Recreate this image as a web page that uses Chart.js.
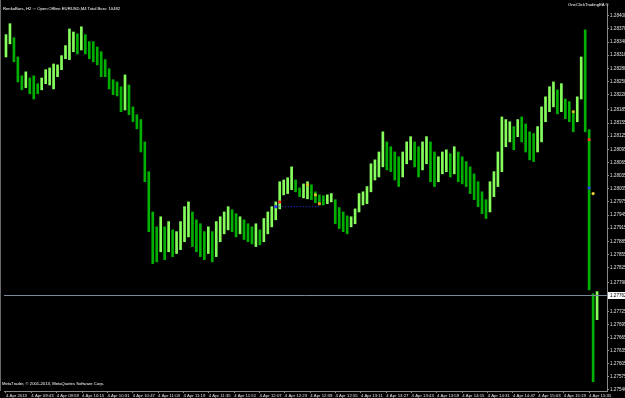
<!DOCTYPE html>
<html>
<head>
<meta charset="utf-8">
<script src="https://cdn.jsdelivr.net/npm/chart.js@4/dist/chart.umd.min.js"></script>
<style>
  body { margin: 0; background: #000; }
  #wrap { position: relative; width: 625px; height: 398px; background: #000; overflow: hidden; }
  #grafico { position: absolute; left: 0; top: 0; }
  .txt { position: absolute; color: #fff; font-family: "Liberation Sans", Arial, sans-serif; font-size: 4.2px; white-space: nowrap; line-height: 1; }
  #frame { position: absolute; left: 0; top: 0; width: 1px; height: 391px; background: #6a6a6a; }
</style>
</head>
<body>
<div id="wrap">
  <canvas id="grafico" width="625" height="398"></canvas>
  <div id="frame"></div>
  <div class="txt" style="left:3px; top:7px;">RenkoBars, H2 ::: Open Offline EURUSD,M4 Total Bars: 10482</div>
  <div class="txt" style="left:568px; top:3px;">OneClickTradingEA ©</div>
  <div class="txt" style="left:2px; top:382px;">MetaTrader, © 2001-2013, MetaQuotes Software Corp.</div>
</div>
<script>
// === Datos (EURUSD, 4 Apr 2013) ===
const highs = [
  1.28357, 1.28382, 1.28350, 1.28306, 1.28263, 1.28272, 1.28258, 1.28263, 1.28245, 1.28258,
  1.28277, 1.28281, 1.28290, 1.28288, 1.28309, 1.28332, 1.28370, 1.28363, 1.28359, 1.28375,
  1.28357, 1.28341, 1.28341, 1.28329, 1.28318, 1.28300, 1.28279, 1.28254, 1.28249, 1.28238,
  1.28265, 1.28242, 1.28192, 1.28174, 1.28163, 1.28112, 1.28044, 1.27952, 1.27918, 1.27941,
  1.27918, 1.27930, 1.27911, 1.27907, 1.27930, 1.27964, 1.27975, 1.27952, 1.27934, 1.27925,
  1.27907, 1.27918, 1.27907, 1.27930, 1.27941, 1.27952, 1.27964, 1.27957, 1.27948, 1.27941,
  1.27934, 1.27925, 1.27918, 1.27925, 1.27911, 1.27937, 1.27952, 1.27964, 1.27975, 1.28021,
  1.28025, 1.28030, 1.28055, 1.28025, 1.28007, 1.28016, 1.28021, 1.28014, 1.27998, 1.27991,
  1.27989, 1.27991, 1.27994, 1.27980, 1.27962, 1.27952, 1.27943, 1.27941, 1.27959, 1.27994,
  1.27998, 1.28010, 1.28062, 1.28071, 1.28089, 1.28135, 1.28112, 1.28101, 1.28089, 1.28078,
  1.28089, 1.28112, 1.28124, 1.28112, 1.28101, 1.28112, 1.28124, 1.28112, 1.28089, 1.28078,
  1.28089, 1.28094, 1.28085, 1.28101, 1.28089, 1.28078, 1.28067, 1.28055, 1.28039, 1.28021,
  1.27998, 1.27980, 1.28021, 1.28044, 1.28089, 1.28169, 1.28163, 1.28158, 1.28147, 1.28163,
  1.28169, 1.28153, 1.28135, 1.28131, 1.28147, 1.28192, 1.28215, 1.28238, 1.28249, 1.28231,
  1.28245, 1.28210, 1.28204, 1.28181, 1.28215, 1.28306, 1.28368, 1.28140, 1.27765, 1.27770
];
const lows = [
  1.28306, 1.28336, 1.28295, 1.28249, 1.28231, 1.28236, 1.28222, 1.28210, 1.28222, 1.28231,
  1.28245, 1.28242, 1.28233, 1.28261, 1.28277, 1.28302, 1.28300, 1.28318, 1.28313, 1.28322,
  1.28313, 1.28302, 1.28295, 1.28288, 1.28261, 1.28261, 1.28233, 1.28220, 1.28217, 1.28181,
  1.28185, 1.28174, 1.28158, 1.28142, 1.28089, 1.28021, 1.27907, 1.27834, 1.27838, 1.27861,
  1.27843, 1.27861, 1.27850, 1.27857, 1.27866, 1.27884, 1.27895, 1.27873, 1.27861, 1.27850,
  1.27843, 1.27857, 1.27838, 1.27850, 1.27884, 1.27902, 1.27911, 1.27907, 1.27895, 1.27902,
  1.27889, 1.27884, 1.27879, 1.27873, 1.27877, 1.27884, 1.27902, 1.27918, 1.27934, 1.27959,
  1.27991, 1.27994, 1.28003, 1.27998, 1.27987, 1.27984, 1.27982, 1.27980, 1.27973, 1.27968,
  1.27968, 1.27971, 1.27975, 1.27925, 1.27914, 1.27907, 1.27902, 1.27918, 1.27925, 1.27952,
  1.27968, 1.27971, 1.27998, 1.28025, 1.28032, 1.28055, 1.28048, 1.28044, 1.28025, 1.28010,
  1.28032, 1.28062, 1.28071, 1.28055, 1.28032, 1.28048, 1.28062, 1.28021, 1.28010, 1.28021,
  1.28039, 1.28044, 1.28032, 1.28039, 1.28021, 1.28016, 1.28010, 1.27994, 1.27980, 1.27964,
  1.27948, 1.27937, 1.27952, 1.27987, 1.28010, 1.28044, 1.28101, 1.28112, 1.28094, 1.28124,
  1.28112, 1.28089, 1.28071, 1.28067, 1.28089, 1.28112, 1.28158, 1.28181, 1.28192, 1.28176,
  1.28181, 1.28165, 1.28158, 1.28135, 1.28158, 1.28210, 1.28135, 1.27774, 1.27564, 1.27706
];

// etiquetas de los ejes
const priceTicks = [
  1.27546, 1.27575, 1.27605, 1.27635, 1.27665, 1.27695, 1.27725, 1.27790, 1.27825, 1.27855,
  1.27885, 1.27915, 1.27945, 1.27975, 1.28005, 1.28035, 1.28065, 1.28095, 1.28125, 1.28155,
  1.28185, 1.28220, 1.28250, 1.28280, 1.28310, 1.28340, 1.28370, 1.28400
];
const timeLabels = [
  '4 Apr 2013', '4 Apr 09:43', '4 Apr 09:59', '4 Apr 10:15', '4 Apr 10:31', '4 Apr 10:47',
  '4 Apr 11:03', '4 Apr 11:19', '4 Apr 11:35', '4 Apr 11:51', '4 Apr 12:07', '4 Apr 12:23',
  '4 Apr 12:39', '4 Apr 12:55', '4 Apr 13:11', '4 Apr 13:27', '4 Apr 13:43', '4 Apr 13:59',
  '4 Apr 14:15', '4 Apr 14:31', '4 Apr 14:47', '4 Apr 15:03', '4 Apr 15:19', '4 Apr 15:35'
];
const currentPrice = 1.27762;

// marcas del indicador / orden
const markerBars = [68, 69, 76, 78, 79, 143, 147, 147, 148];
const markerPrices = [1.27964, 1.27975, 1.28014, 1.27991, 1.27971, 1.28181, 1.28117, 1.28007, 1.27994];
const markerColors = ['#2a3cff', '#ff2020', '#e0c020', '#e0c020', '#ff9020', '#c8c020', '#ff3030', '#2a3cff', '#f0d040'];
const orderLinePrice = 1.27964;
const orderLineBars = [68, 79];

const totalSlots = 152;   // deja hueco a la derecha como MT4
const timeStep = 6.39;    // separacion de etiquetas de tiempo (en barras)

const LIGHT = '#86ff5c';
const DARK = '#00b000';

document.addEventListener('DOMContentLoaded', () => {
  const ctx = document.getElementById('grafico').getContext('2d');

  const barData = highs.map((h, i) => ({ x: i, y: [lows[i], h] }));
  const barColors = highs.map((h, i) => {
    if (i === 0) return LIGHT;
    const mid = (h + lows[i]) / 2;
    const prev = (highs[i - 1] + lows[i - 1]) / 2;
    return mid >= prev ? LIGHT : DARK;
  });

  // linea de precio actual + caja en el eje
  const priceLine = {
    id: 'priceLine',
    afterDatasetsDraw(chart) {
      const { ctx, chartArea, scales } = chart;
      const y = Math.round(scales.y.getPixelForValue(currentPrice)) + 0.5;
      ctx.save();
      ctx.strokeStyle = '#7a8a9a';
      ctx.lineWidth = 1;
      ctx.beginPath();
      ctx.moveTo(chartArea.left, y);
      ctx.lineTo(chartArea.right, y);
      ctx.stroke();
      ctx.fillStyle = '#ffffff';
      ctx.fillRect(chartArea.right + 1, y - 3.5, 18, 7);
      ctx.fillStyle = '#000000';
      ctx.font = '4.6px "Liberation Sans"';
      ctx.textBaseline = 'middle';
      ctx.fillText(currentPrice.toFixed(5), chartArea.right + 3, y);
      ctx.restore();
    }
  };

  new Chart(ctx, {
    type: 'bar',
    data: {
      datasets: [
        {
          type: 'line',
          data: orderLineBars.map(b => ({ x: b, y: orderLinePrice })),
          borderColor: '#2a3cff',
          borderWidth: 1,
          borderDash: [1, 2],
          pointRadius: 0,
          order: 0
        },
        {
          type: 'line',
          data: markerBars.map((b, i) => ({ x: b, y: markerPrices[i] })),
          showLine: false,
          pointRadius: 1.6,
          pointBorderWidth: 0,
          pointBackgroundColor: markerColors,
          order: 0
        },
        {
          data: barData,
          backgroundColor: barColors,
          barThickness: 2,
          order: 1
        }
      ]
    },
    options: {
      responsive: false,
      animation: false,
      layout: { padding: 0 },
      plugins: { legend: { display: false }, tooltip: { enabled: false } },
      scales: {
        x: {
          type: 'linear',
          offset: false,
          min: -0.5,
          max: totalSlots - 0.5,
          grid: { drawOnChartArea: false, offset: false, tickLength: 2, color: '#8a8a8a' },
          border: { color: '#8a8a8a' },
          afterBuildTicks: axis => {
            axis.ticks = timeLabels.map((t, k) => ({ value: k * timeStep }));
          },
          afterFit: s => { s.height = 7; s.paddingLeft = 0; s.paddingRight = 0; },
          ticks: {
            autoSkip: false,
            maxRotation: 0,
            align: 'start',
            padding: 0,
            color: '#e0e0e0',
            font: { family: 'Liberation Sans', size: 4.3 },
            callback: (v, i) => timeLabels[i]
          }
        },
        y: {
          position: 'right',
          min: 1.27543,
          max: 1.28427,
          grid: { drawOnChartArea: false, tickLength: 2, color: '#8a8a8a' },
          border: { color: '#8a8a8a' },
          afterBuildTicks: axis => {
            axis.ticks = priceTicks.map(v => ({ value: v }));
          },
          afterFit: s => { s.width = 18; s.paddingTop = 0; s.paddingBottom = 0; },
          ticks: {
            padding: 1,
            color: '#e0e0e0',
            font: { family: 'Liberation Sans', size: 4.6 },
            callback: v => v.toFixed(5)
          }
        }
      }
    },
    plugins: [priceLine]
  });
});
</script>
</body>
</html>
